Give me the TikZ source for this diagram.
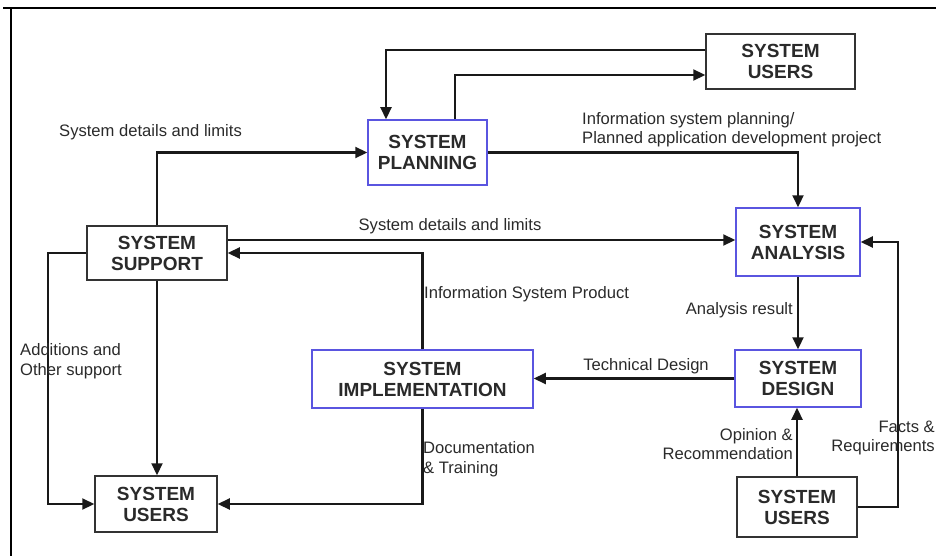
\documentclass[tikz,border=0pt]{standalone}
\usepackage{fontspec}
\setmainfont{Liberation Sans}
\usetikzlibrary{arrows.meta,calc}
\definecolor{boxblue}{HTML}{5A55E0}
\definecolor{txt}{HTML}{2A2A2A}
\tikzset{
  bx/.style={draw=black!80, line width=1.5pt, fill=white, align=center, inner sep=0pt,
             font=\fontsize{19}{21}\selectfont\bfseries, text=txt},
  bbx/.style={bx, draw=boxblue},
  arr/.style={line width=2.2pt, -{Triangle[length=12pt,width=11pt]}, draw=black!90},
  lbl/.style={inner sep=0pt, font=\fontsize{16.6}{19.5}\selectfont, text=txt},
}
\begin{document}
\begin{tikzpicture}[x=1pt,y=-1pt]
\useasboundingbox (0,0) rectangle (936,556);
\draw[line width=2pt] (3,8) -- (936,8);
\draw[line width=2pt] (11,8) -- (11,556);

\node[bx,  minimum width=149pt, minimum height=55pt] (usersT)  at (780.5,61.5) {SYSTEM\\USERS};
\node[bbx, minimum width=119pt, minimum height=65pt] (plan)    at (427.5,152.5) {SYSTEM\\PLANNING};
\node[bx,  minimum width=140pt, minimum height=54pt] (support) at (157,253) {SYSTEM\\SUPPORT};
\node[bbx, minimum width=124pt, minimum height=68pt] (analysis) at (798,242) {SYSTEM\\ANALYSIS};
\node[bbx, minimum width=221pt, minimum height=58pt] (impl)    at (422.5,379) {SYSTEM\\IMPLEMENTATION};
\node[bbx, minimum width=126pt, minimum height=57pt] (design)  at (798,378.5) {SYSTEM\\DESIGN};
\node[bx,  minimum width=122pt, minimum height=56pt] (usersBL) at (156,504) {SYSTEM\\USERS};
\node[bx,  minimum width=120pt, minimum height=60pt] (usersBR) at (797,507) {SYSTEM\\USERS};

\draw[arr] ([yshift=11.5pt]usersT.west) -| ([xshift=-41.5pt]plan.north);
\draw[arr] ([xshift=27.5pt]plan.north) |- ([yshift=-13.5pt]usersT.west);
\draw[arr] (support.north) |- (plan.west);
\draw[arr] (plan.east) -| (analysis.north);
\draw[arr] ([yshift=13pt]support.east) -- ([yshift=13pt]support.east -| analysis.west);
\draw[arr] (impl.north) |- (support.east);
\draw[arr] (analysis.south) -- (design.north);
\draw[arr] (design.west) -- (design.west -| impl.east);
\draw[arr] (usersBR.north) -- (usersBR.north |- design.south);
\draw[arr] (usersBR.east) -- ++(40pt,0) |- (analysis.east);
\draw[arr] (support.west) -- ++(-38pt,0) |- (usersBL.west);
\draw[arr] (support.south) -- (support.south |- usersBL.north);
\draw[arr] (impl.south) |- (usersBL.east);

\node[lbl, anchor=west] (l1) at (59,132) {System details and limits};
\node[lbl, anchor=north west, align=left] (l2) at (582,112) {Information system planning/\\Planned application development project};
\node[lbl] (l3) at (450,226) {System details and limits};
\node[lbl, anchor=west] (l4) at (424,294) {Information System Product};
\node[lbl, anchor=east] (l5) at (793,310) {Analysis result};
\node[lbl] (l6) at (646,366) {Technical Design};
\node[lbl, anchor=east, align=right] (l7) at (793,444) {Opinion \&\\Recommendation};
\node[lbl, anchor=east, align=right] (l8) at (935,438) {Facts \&\\Requirements};
\node[lbl, anchor=west, align=left] (l9) at (20,361) {Additions and\\Other support};
\node[lbl, anchor=west, align=left] (l10) at (423,459) {Documentation\\\& Training};
\end{tikzpicture}
\end{document}
